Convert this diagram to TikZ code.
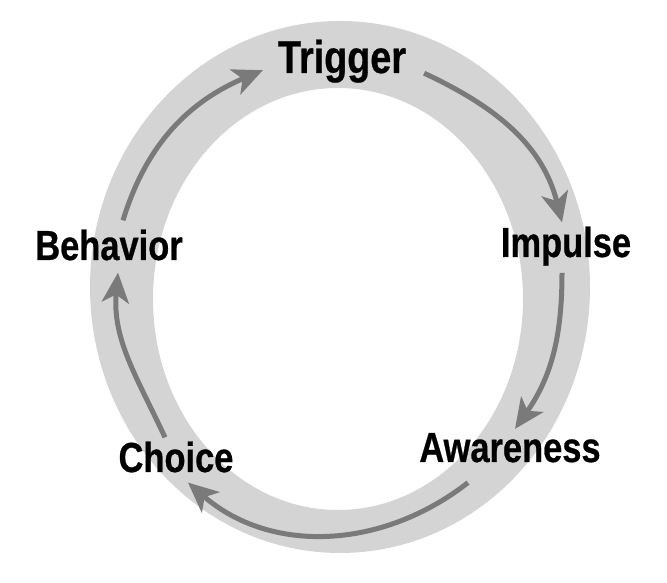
\documentclass[tikz,border=0pt]{standalone}
\usepackage{fontspec}
\newfontfamily\cyclefont[FakeStretch=0.82, FakeBold=0.6]{Liberation Sans}
\usetikzlibrary{arrows.meta}
\definecolor{ringgray}{HTML}{D4D4D4}
\definecolor{arrowgray}{HTML}{7A7A7A}
\tikzstyle{stage} = [font=\cyclefont\bfseries\fontsize{42}{42}\selectfont, text=black, inner sep=2pt, anchor=base]
\tikzstyle{bigstage} = [stage, font=\cyclefont\bfseries\fontsize{46}{46}\selectfont]
\tikzstyle{arrow} = [line width=5pt, draw=arrowgray, -{Stealth[length=30pt,width=27pt,inset=8pt]}]
\begin{document}
\begin{tikzpicture}[x=1pt, y=1pt]
	\useasboundingbox (0,0) rectangle (667,583);
	% the brush ring
	\fill [ringgray, even odd rule] (340,296) ellipse [x radius=250pt, y radius=266pt]
		(338,284) ellipse [x radius=185pt, y radius=211pt];

	\node (trig) [bigstage] at (342,510) {Trigger};
	\node (imp) [stage] at (566,326) {Impulse};
	\node (awa) [stage] at (510,121) {Awareness};
	\node (cho) [stage] at (176,111) {Choice};
	\node (beh) [stage] at (109,323) {Behavior};

	\draw [arrow] ([xshift=14pt,yshift=7pt]beh.north) to[out=73,in=203] ([xshift=-13pt,yshift=-9pt]trig.west);
	\draw [arrow] ([xshift=16pt,yshift=-12pt]trig.east) to[out=-25,in=104] ([xshift=-4pt,yshift=2pt]imp.north);
	\draw [arrow] ([xshift=-4pt,yshift=-5pt]imp.south) to[out=-90,in=55] ([xshift=5pt,yshift=2pt]awa.north);
	\draw [arrow] ([xshift=-42pt,yshift=-18pt]awa.south) to[out=218,in=-41] ([xshift=12pt,yshift=-8pt]cho.south);
	\draw [arrow] ([xshift=-11pt,yshift=2pt]cho.north) to[out=115,in=-95] ([xshift=9pt,yshift=-10pt]beh.south);
\end{tikzpicture}
\end{document}
